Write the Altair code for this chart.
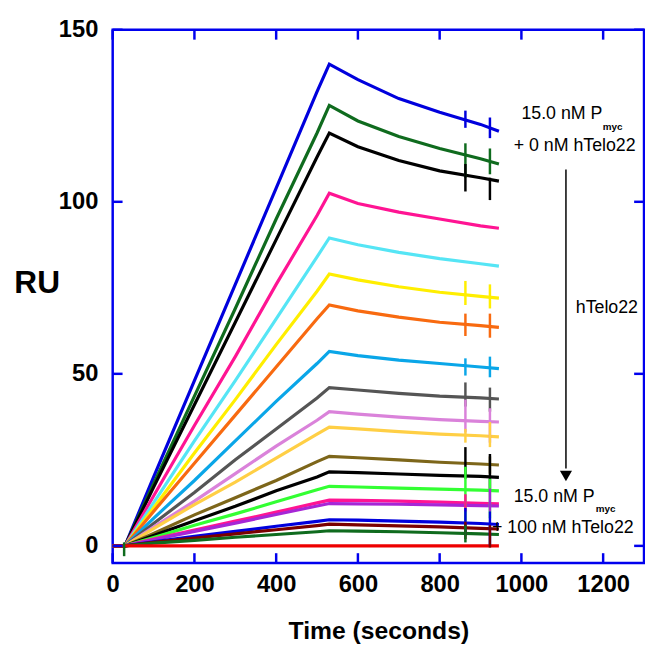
import altair as alt
import pandas as pd

# ---------------- data ----------------
time_s = [0, 30, 100, 200, 300, 400, 500, 530, 600, 700, 800, 900, 945]

series_names = ["c01", "c02", "c03", "c04", "c05", "c06", "c07", "c08", "c09", "c10",
                "c11", "c12", "c13", "c14", "c15", "c16", "c17", "c18", "c19", "c20"]
series_colors = ["#0000dd", "#0f6b1e", "#000000", "#ff1493", "#55e5f5", "#ffee00",
                 "#f86a10", "#0aa6e8", "#555555", "#da82da", "#ffcf45", "#7d661a",
                 "#000000", "#33ff33", "#ff1493", "#a626d6", "#0000dd", "#7a0000",
                 "#0f6b1e", "#ee0000"]

ru_c01 = [0, 0, 20, 48, 76, 104, 132, 140, 135.5, 130, 126, 122.5, 120.5]
ru_c02 = [0, 0, 18, 43.5, 69, 95, 120, 128, 123.5, 119, 115.5, 112.5, 111]
ru_c03 = [0, 0, 17, 41, 65, 89, 113, 120, 116, 112, 109, 107, 106]
ru_c04 = [0, 0, 14.5, 35, 55, 76, 96, 102.5, 99.5, 97, 95, 93, 92.3]
ru_c05 = [0, 0, 12.5, 30.5, 48, 66, 84, 89.5, 87.5, 85.3, 83.5, 82, 81.3]
ru_c06 = [0, 0, 11, 27, 42.5, 58.5, 74, 79, 77.3, 75.3, 73.7, 72.5, 72]
ru_c07 = [0, 0, 10, 24, 38, 52, 66, 70, 68.3, 66.5, 65, 64, 63.5]
ru_c08 = [0, 0, 8, 19, 30.5, 42, 53, 56.5, 55.3, 54, 53, 52, 51.5]
ru_c09 = [0, 0, 6.5, 15.5, 25, 34, 43, 46, 45.3, 44.3, 43.5, 43, 42.7]
ru_c10 = [0, 0, 5.5, 13, 21, 29, 36.5, 39, 38.3, 37.4, 36.7, 36.2, 36]
ru_c11 = [0, 0, 5, 12, 18.5, 25.5, 32.5, 34.5, 34, 33.2, 32.5, 32, 31.7]
ru_c12 = [0, 0, 3.6, 9, 14, 19, 24.5, 26, 25.6, 25, 24.3, 23.8, 23.5]
ru_c13 = [0, 0, 3, 7.3, 11.5, 16, 20, 21.5, 21.3, 20.9, 20.5, 20.2, 19.9]
ru_c14 = [0, 0, 2.4, 6, 9.3, 12.8, 16.3, 17.3, 17.1, 16.8, 16.5, 16.2, 16]
ru_c15 = [0, 0, 2, 4.6, 7.2, 9.8, 12.5, 13.3, 13.2, 13, 12.7, 12.4, 12.2]
ru_c16 = [0, 0, 1.8, 4.2, 6.6, 9.1, 11.6, 12.3, 12.2, 12.1, 11.9, 11.7, 11.6]
ru_c17 = [0, 0, 1.2, 2.8, 4.2, 5.7, 7.1, 7.6, 7.5, 7.2, 6.9, 6.5, 6.2]
ru_c18 = [0, 0, 1, 2.3, 3.5, 4.7, 5.9, 6.3, 6.1, 5.8, 5.5, 5.1, 4.9]
ru_c19 = [0, 0, 0.8, 1.6, 2.5, 3.3, 4.1, 4.4, 4.3, 4.1, 3.8, 3.5, 3.3]
ru_c20 = [0, 0, 0, 0, 0, 0, 0, 0, 0, 0, 0, 0, 0]

# injection spikes (vertical glitches)
spike_series = ["c01", "c01", "c02", "c02", "c03", "c03", "c06", "c06", "c07", "c07",
                "c08", "c08", "c09", "c09", "c10", "c10", "c11", "c11", "c12", "c13",
                "c13", "c14", "c14", "c15", "c16", "c17", "c17", "c18", "c18", "c19", "c19"]
spike_time = [863, 923, 863, 923, 863, 923, 863, 923, 863, 923,
              863, 923, 863, 923, 863, 923, 863, 923, 923, 863,
              923, 863, 923, 863, 923, 863, 923, 863, 923, 28, 863]
spike_lo = [121.5, 118.5, 107, 108, 103, 100.5, 70, 69, 61, 60.5,
            49.5, 49, 40.5, 39, 33, 30, 30, 28.7, 21, 19.5,
            16.6, 7, 8, 10, 10, 3, 0.3, 2, -0.5, -3, 1]
spike_hi = [126.5, 124.5, 117, 115.5, 111, 107, 77, 76, 67.5, 67.5,
            54.5, 55, 47.5, 46, 42.5, 40, 34, 36, 26, 28.7,
            26.7, 23, 19.5, 15, 16.6, 11, 10, 7, 6, 1, 6]

x_ticks = [0, 200, 400, 600, 800, 1000, 1200]
y_ticks = [0, 50, 100, 150]

# annotations
ann_text = ["15.0 nM P", "+ 0 nM hTelo22", "hTelo22", "15.0 nM P", "+ 100 nM hTelo22"]
ann_t = [1000, 981, 1133, 981, 928]
ann_ru = [125.4, 116.2, 69.2, 14.1, 5.2]
sub_text = ["myc", "myc"]
sub_t = [1199, 1182]
sub_ru = [121.8, 10.6]
arrow_t = [1109]
arrow_top = [109.4]
arrow_bottom = [22.5]
arrow_tip = [20.3]

# ---------------- build tables ----------------
all_ru = [ru_c01, ru_c02, ru_c03, ru_c04, ru_c05, ru_c06, ru_c07, ru_c08, ru_c09, ru_c10,
          ru_c11, ru_c12, ru_c13, ru_c14, ru_c15, ru_c16, ru_c17, ru_c18, ru_c19, ru_c20]
rows = []
for name, vals in zip(series_names, all_ru):
    for t, v in zip(time_s, vals):
        rows.append({"series": name, "t": t, "ru": v})
curves = pd.DataFrame(rows)
spikes = pd.DataFrame({"series": spike_series, "t": spike_time, "lo": spike_lo, "hi": spike_hi})
xt = pd.DataFrame({"v": x_ticks})
yt = pd.DataFrame({"v": y_ticks})
ann = pd.DataFrame({"t": ann_t, "ru": ann_ru, "label": ann_text})
sub = pd.DataFrame({"t": sub_t, "ru": sub_ru, "label": sub_text})
arrow = pd.DataFrame({"t": arrow_t, "top": arrow_top, "bottom": arrow_bottom, "tip": arrow_tip})

W, H = 538, 540
FRAME = "#0000ee"
xs = alt.Scale(domain=[0, 1300], nice=False, zero=False)
ys = alt.Scale(domain=[-5, 150], nice=False, zero=False)
cs = alt.Scale(domain=series_names, range=series_colors)

x_axis = alt.Axis(values=x_ticks, format="d", title="Time (seconds)", labelFontSize=24,
                  labelFontWeight="bold", labelColor="black", labelFont="Liberation Sans",
                  labelPadding=10, labelFlush=False, ticks=False, domain=False, grid=False,
                  titleFontSize=25, titleFontWeight="bold", titleFont="Liberation Sans",
                  titleColor="black", titleBaseline="middle", titleY=68)
y_axis = alt.Axis(values=y_ticks, format="d", title="RU", labelFontSize=24, labelFontWeight="bold",
                  labelColor="black", labelFont="Liberation Sans", labelPadding=15, labelFlush=False,
                  ticks=False, domain=False, grid=False, titleFontSize=32, titleFontWeight="bold",
                  titleFont="Liberation Sans", titleColor="black", titleAngle=0, titleAlign="center",
                  titleBaseline="middle", titleX=-77, titleY=256)


def X(f):
    return alt.X(f, scale=xs, axis=x_axis)


def Y(f):
    return alt.Y(f, scale=ys, axis=y_axis)


lines = alt.Chart(curves).mark_line(strokeWidth=3.2).encode(
    x=X("t:Q"), y=Y("ru:Q"),
    color=alt.Color("series:N", scale=cs, legend=None),
)

spike_rules = alt.Chart(spikes).mark_rule(strokeWidth=2.5).encode(
    x=X("t:Q"), y=Y("lo:Q"), y2="hi:Q",
    color=alt.Color("series:N", scale=cs, legend=None),
)

tick_style = dict(color=FRAME, strokeWidth=2.5)
bottom_ticks = alt.Chart(xt).mark_rule(**tick_style).encode(
    x=X("v:Q"), y=alt.value(H), y2=alt.value(H - 10))
top_ticks = alt.Chart(xt).mark_rule(**tick_style).encode(
    x=X("v:Q"), y=alt.value(0), y2=alt.value(10))
left_ticks = alt.Chart(yt).mark_rule(**tick_style).encode(
    y=Y("v:Q"), x=alt.value(0), x2=alt.value(10))
right_ticks = alt.Chart(yt).mark_rule(**tick_style).encode(
    y=Y("v:Q"), x=alt.value(W), x2=alt.value(W - 10))

ann_layer = alt.Chart(ann).mark_text(align="left", baseline="middle", fontSize=18,
                                     font="Liberation Sans", color="black").encode(
    x=X("t:Q"), y=Y("ru:Q"), text="label:N")
sub_layer = alt.Chart(sub).mark_text(align="left", baseline="middle", fontSize=10,
                                     fontWeight="bold", font="Liberation Sans", color="black").encode(
    x=X("t:Q"), y=Y("ru:Q"), text="label:N")
arrow_line = alt.Chart(arrow).mark_rule(color="black", strokeWidth=1.5).encode(
    x=X("t:Q"), y=Y("top:Q"), y2="bottom:Q")
arrow_head = alt.Chart(arrow).mark_point(shape="triangle-down", filled=True, size=150,
                                         color="black", opacity=1).encode(
    x=X("t:Q"), y=Y("tip:Q"))

chart = alt.layer(
    lines, spike_rules, bottom_ticks, top_ticks, left_ticks, right_ticks,
    ann_layer, sub_layer, arrow_line, arrow_head
).properties(
    width=W, height=H,
    autosize=alt.AutoSizeParams(type="none"),
    padding={"left": 106, "top": 18, "right": 1, "bottom": 86},
).configure_view(stroke=FRAME, strokeWidth=2.5)

chart.save("out.html", embed_options={"renderer": "svg", "actions": False})
